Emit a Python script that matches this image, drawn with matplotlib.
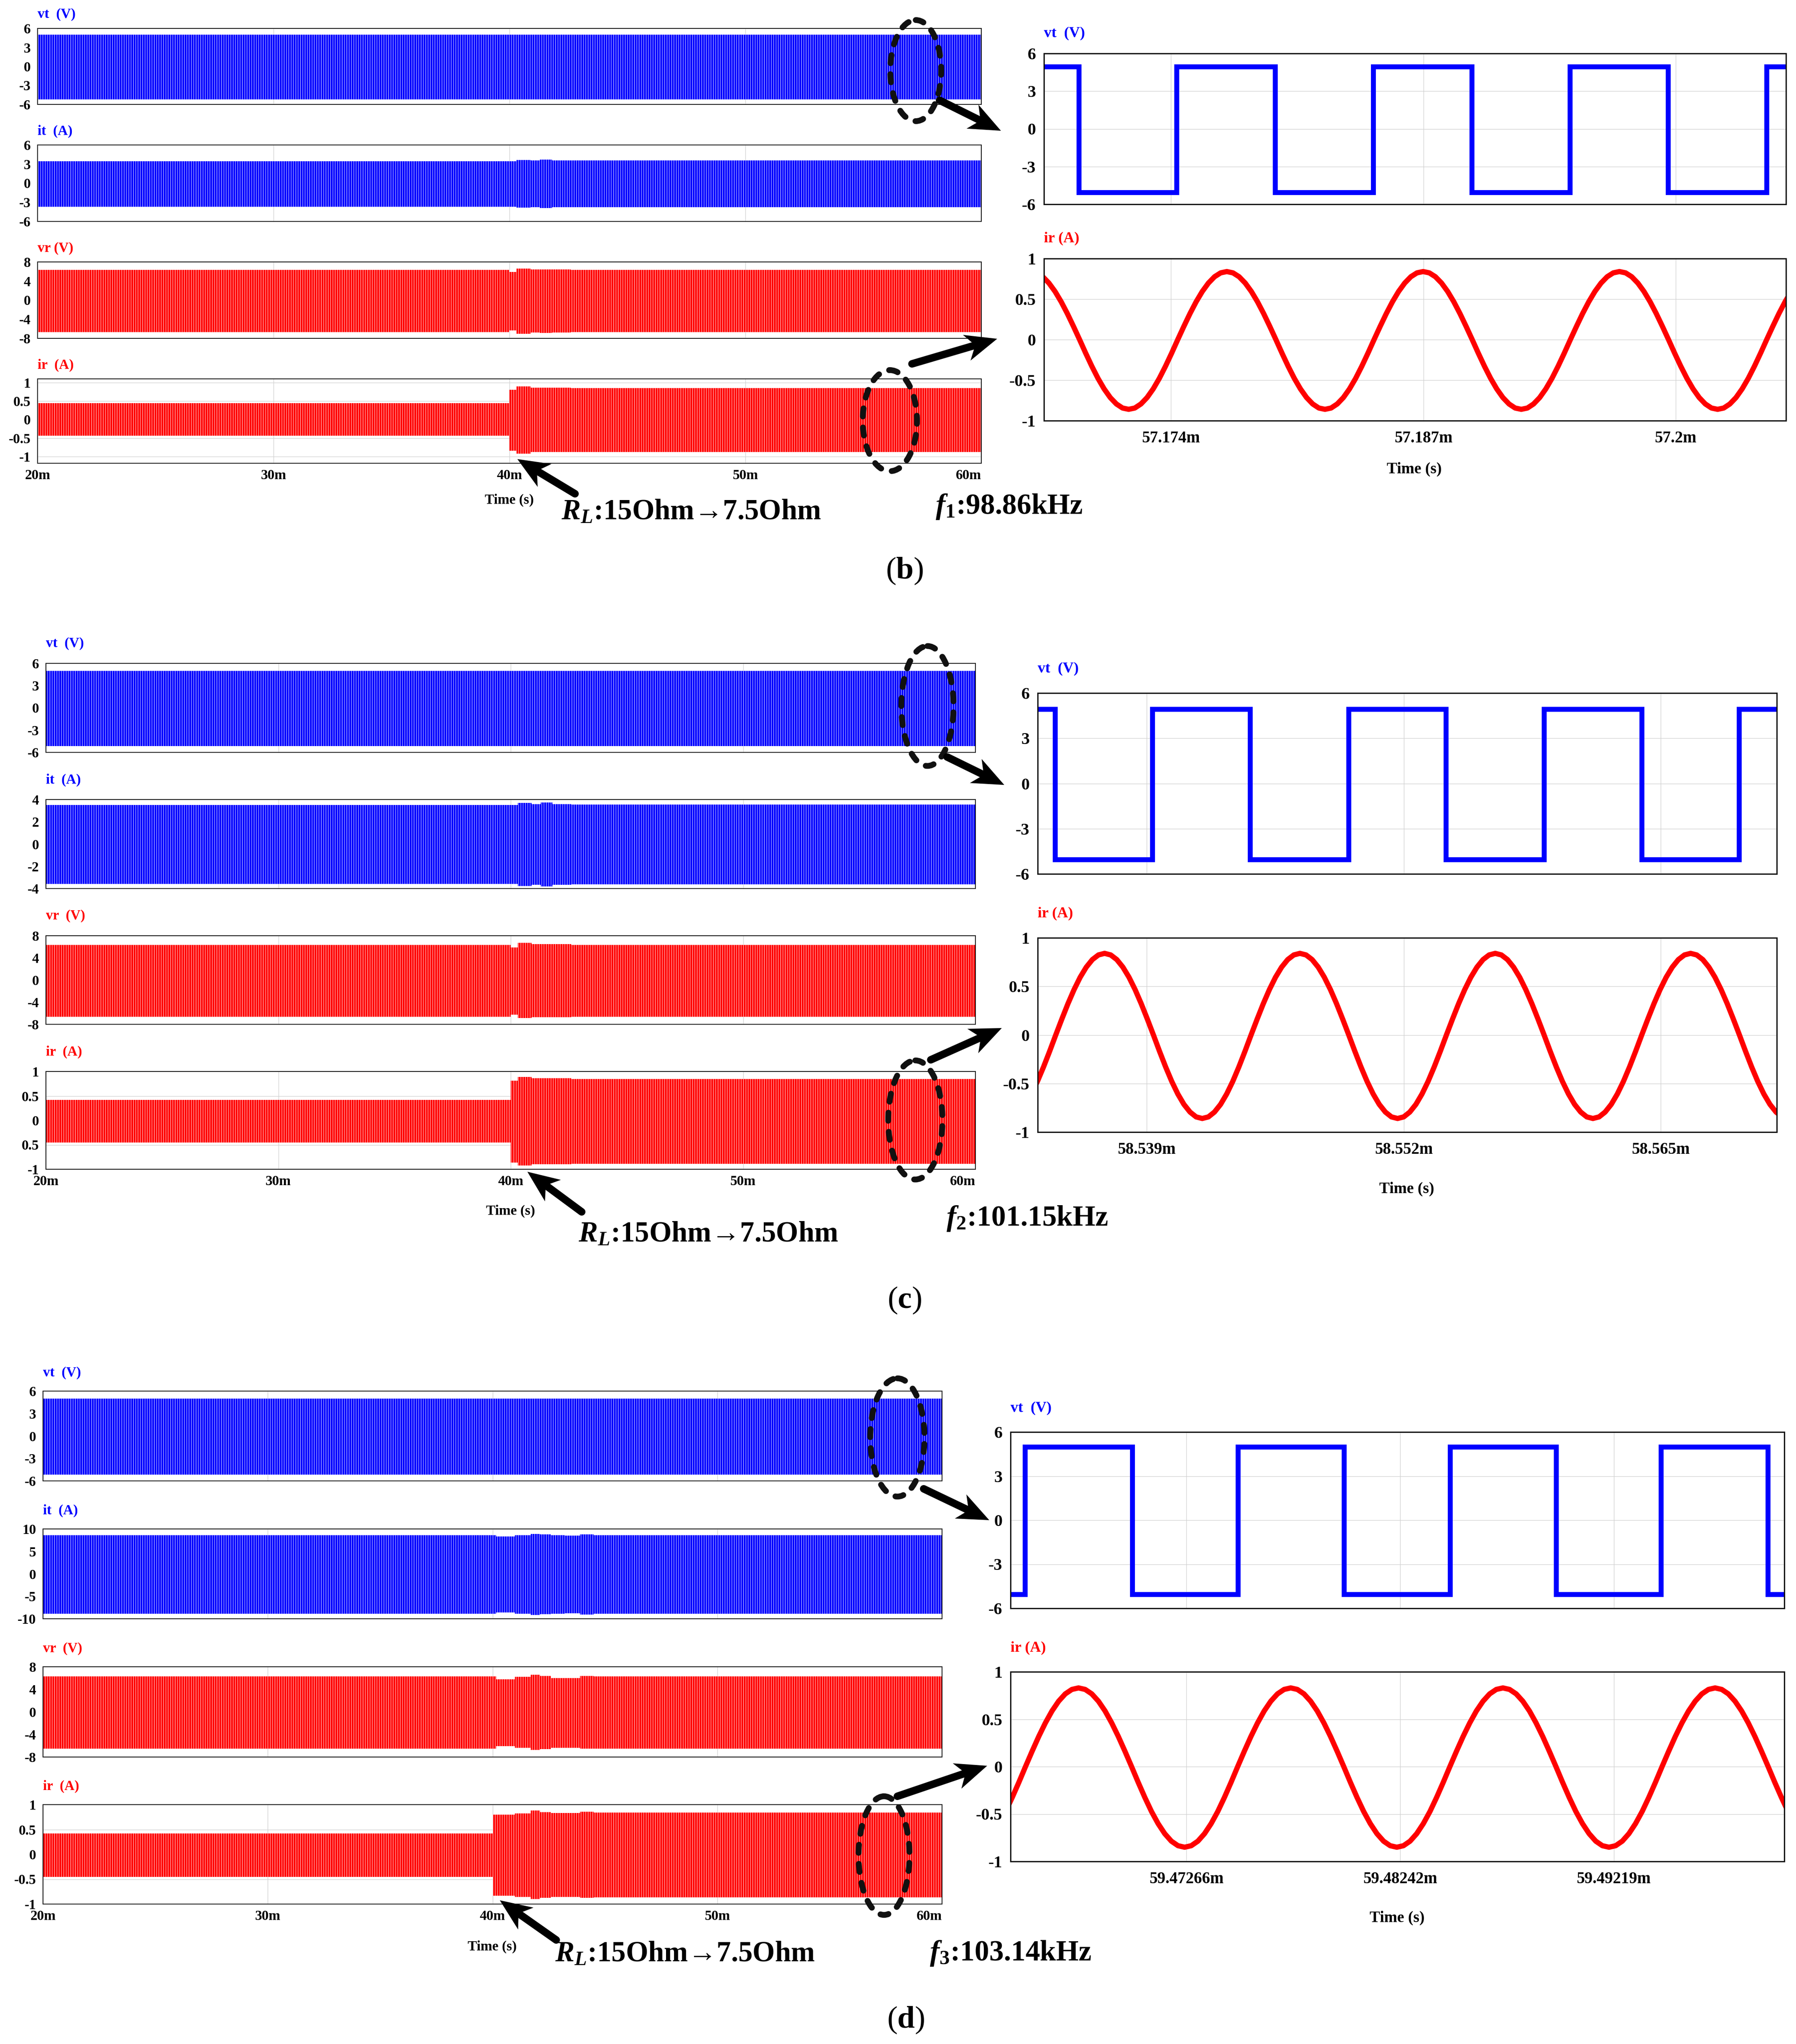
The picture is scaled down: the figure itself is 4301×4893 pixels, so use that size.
"""Tri-frequency WPT transient waveforms, panels (b), (c), (d)."""

import matplotlib

matplotlib.use("Agg")
import matplotlib.pyplot as plt
import numpy as np
from matplotlib.patches import Ellipse

BLUE = "#0000ff"
RED = "#ff0000"
WIDTH, HEIGHT = 4301, 4893

plt.rcParams["font.family"] = ["Liberation Serif", "DejaVu Serif"]
plt.rcParams["font.weight"] = "bold"
plt.rcParams["hatch.linewidth"] = 0.65
plt.rcParams["mathtext.fontset"] = "custom"
plt.rcParams["mathtext.rm"] = "Liberation Serif"
plt.rcParams["mathtext.bf"] = "Liberation Serif:bold"
plt.rcParams["mathtext.it"] = "Liberation Serif:italic:bold"
plt.rcParams["mathtext.bfit"] = "Liberation Serif:italic:bold"

# transient envelopes (ms), each value holds until the next time
flat_t = [20, 60]

b_t = [20, 40, 40.3, 40.9, 41.3, 41.8, 42.6, 60]
b_vt_hi = [5.0, 5.0]
b_vt_lo = [-5.2, -5.2]
b_it_hi = [3.45, 3.45, 3.65, 3.55, 3.68, 3.55, 3.55, 3.55]
b_it_lo = [-3.7, -3.7, -3.85, -3.75, -3.9, -3.78, -3.78, -3.78]
b_vr_hi = [6.34, 5.9, 6.56, 6.4, 6.45, 6.4, 6.36, 6.36]
b_vr_lo = [-6.7, -6.35, -7.0, -6.8, -6.85, -6.75, -6.7, -6.7]
b_ir_hi = [0.44, 0.81, 0.9, 0.86, 0.86, 0.86, 0.85, 0.85]
b_ir_lo = [-0.43, -0.84, -0.92, -0.88, -0.88, -0.88, -0.87, -0.87]

c_t = [20, 40, 40.3, 40.9, 41.3, 41.8, 42.6, 60]
c_vt_hi = [5.0, 5.0]
c_vt_lo = [-5.13, -5.13]
c_it_hi = [3.5, 3.5, 3.7, 3.58, 3.72, 3.58, 3.55, 3.55]
c_it_lo = [-3.6, -3.6, -3.78, -3.66, -3.8, -3.68, -3.63, -3.63]
c_vr_hi = [6.33, 5.9, 6.7, 6.47, 6.47, 6.47, 6.35, 6.35]
c_vr_lo = [-6.62, -6.3, -6.9, -6.72, -6.72, -6.72, -6.63, -6.63]
c_ir_hi = [0.42, 0.81, 0.89, 0.86, 0.86, 0.86, 0.85, 0.85]
c_ir_lo = [-0.455, -0.86, -0.92, -0.9, -0.9, -0.9, -0.89, -0.89]

d_t = [20, 40, 40.15, 41, 41.7, 42.1, 42.6, 43.2, 43.9, 44.5, 60]
d_vt_hi = [5.0, 5.0]
d_vt_lo = [-5.17, -5.17]
d_it_hi = [8.63, 8.63, 8.3, 8.6, 8.92, 8.75, 8.63, 8.55, 8.8, 8.63, 8.63]
d_it_lo = [-8.92, -8.92, -8.6, -8.85, -9.17, -9.0, -8.92, -8.76, -9.05, -8.92, -8.92]
d_vr_hi = [6.27, 6.27, 5.8, 6.2, 6.6, 6.4, 6.03, 6.03, 6.35, 6.27, 6.27]
d_vr_lo = [-6.5, -6.5, -6.1, -6.4, -6.75, -6.6, -6.35, -6.35, -6.55, -6.5, -6.5]
d_ir_hi = [0.42, 0.8, 0.8, 0.82, 0.88, 0.85, 0.83, 0.83, 0.855, 0.84, 0.84]
d_ir_lo = [-0.45, -0.83, -0.83, -0.86, -0.9, -0.87, -0.855, -0.855, -0.875, -0.865, -0.865]

# zoomed primary voltage: switching instants (ms) and levels (V)
b_vt_edges = [57.16745, 57.169259, 57.174302, 57.179375, 57.184418, 57.189491,
              57.194565, 57.199608, 57.204681, 57.20568]
b_vt_levels = [4.95, -5.07, 4.95, -5.07, 4.95, -5.07, 4.95, -5.07, 4.95, 4.95]
c_vt_edges = [58.533486, 58.534375, 58.539296, 58.544247, 58.549228, 58.554149,
              58.5591, 58.564051, 58.568973, 58.57087]
c_vt_levels = [4.91, -5.05, 4.91, -5.05, 4.91, -5.05, 4.91, -5.05, 4.91, 4.91]
d_vt_edges = [59.464623, 59.465293, 59.470195, 59.475017, 59.479866, 59.484715,
              59.489564, 59.49436, 59.499236, 59.49998]
d_vt_levels = [-5.06, 4.97, -5.06, 4.97, -5.06, 4.97, -5.06, 4.97, -5.06, -5.06]

# zoomed secondary current, evenly spaced readings between the two end times
b_ir_span = (57.16739, 57.20595)
b_ir_values = [
    0.776, 0.698, 0.594, 0.467, 0.322, 0.164, 0, -0.168, -0.329, -0.478, -0.608, -0.715, -0.794, -0.844, -0.86,
    -0.844, -0.794, -0.715, -0.608, -0.478, -0.329, -0.168, 0, 0.164, 0.322, 0.467, 0.594, 0.698, 0.776, 0.824, 0.84,
    0.824, 0.776, 0.698, 0.594, 0.467, 0.322, 0.164, 0, -0.168, -0.329, -0.478, -0.608, -0.715, -0.794, -0.844, -0.86,
    -0.844, -0.794, -0.715, -0.608, -0.478, -0.329, -0.168, 0, 0.164, 0.322, 0.467, 0.594, 0.698, 0.776, 0.824, 0.84,
    0.824, 0.776, 0.698, 0.594, 0.467, 0.322, 0.164, 0, -0.168, -0.329, -0.478, -0.608, -0.715, -0.794, -0.844, -0.86,
    -0.844, -0.794, -0.715, -0.608, -0.478, -0.329, -0.168, 0, 0.164, 0.322, 0.467, 0.594, 0.698, 0.776, 0.824, 0.84,
    0.824, 0.776, 0.698, 0.594, 0.467, 0.322, 0.164, 0, -0.168, -0.329, -0.478, -0.608, -0.715, -0.794, -0.844, -0.86,
    -0.844, -0.794, -0.715, -0.608, -0.478, -0.329, -0.168, 0, 0.164, 0.322, 0.467, 0.594,
]
c_ir_span = (58.533165, 58.57145)
c_ir_values = [
    -0.608, -0.478, -0.329, -0.168, 0, 0.164, 0.322, 0.467, 0.594, 0.698, 0.776, 0.824, 0.84,
    0.824, 0.776, 0.698, 0.594, 0.467, 0.322, 0.164, 0, -0.168, -0.329, -0.478, -0.608, -0.715, -0.794, -0.844, -0.86,
    -0.844, -0.794, -0.715, -0.608, -0.478, -0.329, -0.168, 0, 0.164, 0.322, 0.467, 0.594, 0.698, 0.776, 0.824, 0.84,
    0.824, 0.776, 0.698, 0.594, 0.467, 0.322, 0.164, 0, -0.168, -0.329, -0.478, -0.608, -0.715, -0.794, -0.844, -0.86,
    -0.844, -0.794, -0.715, -0.608, -0.478, -0.329, -0.168, 0, 0.164, 0.322, 0.467, 0.594, 0.698, 0.776, 0.824, 0.84,
    0.824, 0.776, 0.698, 0.594, 0.467, 0.322, 0.164, 0, -0.168, -0.329, -0.478, -0.608, -0.715, -0.794, -0.844, -0.86,
    -0.844, -0.794, -0.715, -0.608, -0.478, -0.329, -0.168, 0, 0.164, 0.322, 0.467, 0.594, 0.698, 0.776, 0.824, 0.84,
    0.824, 0.776, 0.698, 0.594, 0.467, 0.322, 0.164, 0, -0.168, -0.329, -0.478, -0.608, -0.715, -0.794, -0.844, -0.86,
]
d_ir_span = (59.464094, 59.500454)
d_ir_values = [
    -0.601, -0.473, -0.325, -0.166, 0, 0.162, 0.318, 0.461, 0.587, 0.69, 0.767, 0.814, 0.83,
    0.814, 0.767, 0.69, 0.587, 0.461, 0.318, 0.162, 0, -0.166, -0.325, -0.473, -0.601, -0.707, -0.786, -0.834, -0.85,
    -0.834, -0.786, -0.707, -0.601, -0.473, -0.325, -0.166, 0, 0.162, 0.318, 0.461, 0.587, 0.69, 0.767, 0.814, 0.83,
    0.814, 0.767, 0.69, 0.587, 0.461, 0.318, 0.162, 0, -0.166, -0.325, -0.473, -0.601, -0.707, -0.786, -0.834, -0.85,
    -0.834, -0.786, -0.707, -0.601, -0.473, -0.325, -0.166, 0, 0.162, 0.318, 0.461, 0.587, 0.69, 0.767, 0.814, 0.83,
    0.814, 0.767, 0.69, 0.587, 0.461, 0.318, 0.162, 0, -0.166, -0.325, -0.473, -0.601, -0.707, -0.786, -0.834, -0.85,
    -0.834, -0.786, -0.707, -0.601, -0.473, -0.325, -0.166, 0, 0.162, 0.318, 0.461, 0.587, 0.69, 0.767, 0.814, 0.83,
    0.814, 0.767, 0.69, 0.587, 0.461, 0.318, 0.162, 0, -0.166, -0.325, -0.473, -0.601,
]

v6_ticks = [6, 3, 0, -3, -6]
v8_ticks = [8, 4, 0, -4, -8]
ir_ticks = [1, 0.5, 0, -0.5, -1]
ir_labels = ["1", "0.5", "0", "-0.5", "-1"]
ir_labels_c = ["1", "0.5", "0", "0.5", "-1"]
time_ticks = [20, 30, 40, 50, 60]
time_labels = ["20m", "30m", "40m", "50m", "60m"]


def _axes_px(fig, x0, y0, x1, y1):
    return fig.add_axes([x0 / WIDTH, 1 - y1 / HEIGHT, (x1 - x0) / WIDTH, (y1 - y0) / HEIGHT])


def _style(ax, yticks, ylabels, ylim, size, ypad, frame):
    ax.set_ylim(*ylim)
    ax.set_yticks(yticks, ylabels)
    ax.grid(True, color="#d2d2d2", linewidth=1.0)
    ax.set_axisbelow(True)
    ax.tick_params(axis="both", length=0, labelsize=size)
    ax.tick_params(axis="y", pad=ypad)
    for spine in ax.spines.values():
        spine.set_linewidth(frame)
        spine.set_color("#111111")


def _title(ax, text, color, offset, size):
    ax.annotate(text, xy=(0, 1), xycoords="axes fraction", xytext=(0, offset),
                textcoords="offset pixels", color=color, fontsize=size,
                fontweight="bold", ha="left", va="center")


def _left_stack(fig, box, rows, title_offset):
    x0, x1 = box
    for row, (y0, y1, label, color, t, hi, lo, yticks, ylabels, ylim) in enumerate(rows):
        ax = _axes_px(fig, x0, y0, x1, y1)
        ax.fill_between(t, lo, hi, step="post", facecolor=color, edgecolor="white",
                        hatch="|||", linewidth=0, zorder=2)
        ax.set_xlim(20, 60)
        ax.set_xticks(time_ticks, time_labels if row == len(rows) - 1 else [])
        _style(ax, yticks, ylabels, ylim, 24, 12, 1.4)
        ax.tick_params(axis="x", pad=10)
        if row == len(rows) - 1:
            ax.get_xticklabels()[-1].set_ha("right")
        _title(ax, label, color, title_offset, 24)


def _right_pair(fig, box, vt_rows, ir_rows, xlim, ticks, tick_labels, title_offset):
    x0, x1 = box
    y0, y1, edges, levels = vt_rows
    ax = _axes_px(fig, x0, y0, x1, y1)
    ax.step(edges, levels, where="post", color=BLUE, linewidth=8.5,
            solid_joinstyle="miter", solid_capstyle="projecting")
    ax.set_xlim(*xlim)
    ax.set_xticks(ticks, [])
    _style(ax, v6_ticks, [str(v) for v in v6_ticks], (-6, 6), 29, 14, 2.2)
    _title(ax, "vt  (V)", BLUE, title_offset, 26)

    y0, y1, span, values, ylabels = ir_rows
    ax = _axes_px(fig, x0, y0, x1, y1)
    ax.plot(np.linspace(*span, len(values)), values, color=RED, linewidth=9,
            solid_joinstyle="round")
    ax.set_xlim(*xlim)
    ax.set_xticks(ticks, tick_labels)
    _style(ax, ir_ticks, ylabels, (-1, 1), 29, 14, 2.2)
    ax.tick_params(axis="x", pad=17, labelsize=28)
    _title(ax, "ir (A)", RED, title_offset, 26)


def _arrow(ax, tail, tip, head_len=76, head_half=32, shaft=18):
    tail = np.asarray(tail, dtype=float)
    tip = np.asarray(tip, dtype=float)
    along = (tip - tail) / np.hypot(*(tip - tail))
    across = np.array([-along[1], along[0]])
    neck = tip - along * head_len * 0.72
    back = tip - along * head_len
    ax.plot([tail[0], neck[0]], [tail[1], neck[1]], color="black",
            linewidth=shaft * 0.72, solid_capstyle="round")
    ax.fill([tip[0], back[0] + across[0] * head_half, neck[0], back[0] - across[0] * head_half],
            [tip[1], back[1] + across[1] * head_half, neck[1], back[1] - across[1] * head_half],
            color="black", linewidth=0)


def _ring(ax, center, width, height):
    ax.add_patch(Ellipse(center, width, height, fill=False, edgecolor="#111111", linewidth=10,
                         linestyle=(0, (1.4, 1.9)), capstyle="round"))


def main():
    fig = plt.figure(figsize=(WIDTH / 100, HEIGHT / 100), dpi=100)

    # panel (b)
    _left_stack(fig, (90, 2350), [
        (68, 250, "vt  (V)", BLUE, flat_t, b_vt_hi, b_vt_lo, v6_ticks, v6_ticks, (-6, 6)),
        (347, 530, "it  (A)", BLUE, b_t, b_it_hi, b_it_lo, v6_ticks, v6_ticks, (-6, 6)),
        (627, 810, "vr (V)", RED, b_t, b_vr_hi, b_vr_lo, v8_ticks, v8_ticks, (-8, 8)),
        (907, 1109, "ir  (A)", RED, b_t, b_ir_hi, b_ir_lo, ir_ticks, ir_labels, (-1.18, 1.1)),
    ], 33)
    _right_pair(fig, (2500, 4277), (128, 489, b_vt_edges, b_vt_levels),
                (619, 1007, b_ir_span, b_ir_values, ir_labels), (57.16745, 57.20568),
                [57.174, 57.187, 57.2], ["57.174m", "57.187m", "57.2m"], 48)

    # panel (c)
    _left_stack(fig, (110, 2336), [
        (1588, 1801, "vt  (V)", BLUE, flat_t, c_vt_hi, c_vt_lo, v6_ticks, v6_ticks, (-6, 6)),
        (1914, 2127, "it  (A)", BLUE, c_t, c_it_hi, c_it_lo, [4, 2, 0, -2, -4], [4, 2, 0, -2, -4], (-4, 4)),
        (2240, 2452, "vr  (V)", RED, c_t, c_vr_hi, c_vr_lo, v8_ticks, v8_ticks, (-8, 8)),
        (2565, 2799, "ir  (A)", RED, c_t, c_ir_hi, c_ir_lo, ir_ticks, ir_labels_c, (-1, 1)),
    ], 47)
    _right_pair(fig, (2485, 4255), (1659, 2092, c_vt_edges, c_vt_levels),
                (2245, 2710, c_ir_span, c_ir_values, ir_labels), (58.533486, 58.57087),
                [58.539, 58.552, 58.565], ["58.539m", "58.552m", "58.565m"], 58)

    # panel (d)
    _left_stack(fig, (103, 2256), [
        (3330, 3545, "vt  (V)", BLUE, flat_t, d_vt_hi, d_vt_lo, v6_ticks, v6_ticks, (-6, 6)),
        (3660, 3875, "it  (A)", BLUE, d_t, d_it_hi, d_it_lo, [10, 5, 0, -5, -10], [10, 5, 0, -5, -10], (-10, 10)),
        (3990, 4206, "vr  (V)", RED, d_t, d_vr_hi, d_vr_lo, v8_ticks, v8_ticks, (-8, 8)),
        (4320, 4558, "ir  (A)", RED, d_t, d_ir_hi, d_ir_lo, ir_ticks, ir_labels, (-1, 1)),
    ], 44)
    _right_pair(fig, (2420, 4273), (3428, 3850, d_vt_edges, d_vt_levels),
                (4002, 4456, d_ir_span, d_ir_values, ir_labels), (59.464623, 59.49998),
                [59.47266, 59.48242, 59.49219], ["59.47266m", "59.48242m", "59.49219m"], 57)

    # annotations live on one overlay in picture pixels
    over = fig.add_axes([0, 0, 1, 1], facecolor="none")
    over.set_xlim(0, WIDTH)
    over.set_ylim(HEIGHT, 0)
    over.axis("off")

    for tail, tip in [
        ((2250, 240), (2397, 313)), ((2184, 871), (2388, 811)), ((1377, 1182), (1239, 1099)),
        ((2268, 1812), (2405, 1879)), ((2229, 2537), (2399, 2461)), ((1393, 2901), (1263, 2805)),
        ((2212, 3564), (2369, 3639)), ((2149, 4300), (2364, 4227)), ((1332, 4644), (1197, 4549)),
    ]:
        _arrow(over, tail, tip)

    for center, width, height in [
        ((2193, 169), 122, 242), ((2131, 1007), 130, 242),
        ((2221, 1690), 125, 287), ((2192, 2681), 130, 285),
        ((2149, 3441), 130, 283), ((2117, 4442), 122, 284),
    ]:
        _ring(over, center, width, height)

    for x, y, size in [
        (1220, 1197, 24), (3387, 1123, 27),
        (1223, 2899, 24), (3369, 2846, 27),
        (1179, 4660, 24), (3346, 4591, 27),
    ]:
        over.text(x, y, "Time (s)", fontsize=size, fontweight="bold", ha="center", va="center")

    load_label = "$\\mathbfit{R}_{\\mathbfit{L}}$:15Ohm\u21927.5Ohm"
    for x, y in [(1344, 1226), (1385, 2955), (1329, 4678)]:
        over.text(x, y, load_label, fontsize=49.5, fontweight="bold", ha="left", va="center")

    for x, y, text in [
        (2240, 1213, "$\\mathbfit{f}_{\\mathrm{1}}$:98.86kHz"),
        (2266, 2917, "$\\mathbfit{f}_{\\mathrm{2}}$:101.15kHz"),
        (2226, 4676, "$\\mathbfit{f}_{\\mathrm{3}}$:103.14kHz"),
    ]:
        over.text(x, y, text, fontsize=50, fontweight="bold", ha="left", va="center")

    for x, y, letter in [(2166, 1367, "b"), (2166, 3113, "c"), (2169, 4836, "d")]:
        over.text(x, y, f"($\\mathbf{{{letter}}}$)", fontsize=54, fontweight="normal",
                  ha="center", va="center")

    fig.savefig("out.png", dpi=100)


if __name__ == "__main__":
    main()
